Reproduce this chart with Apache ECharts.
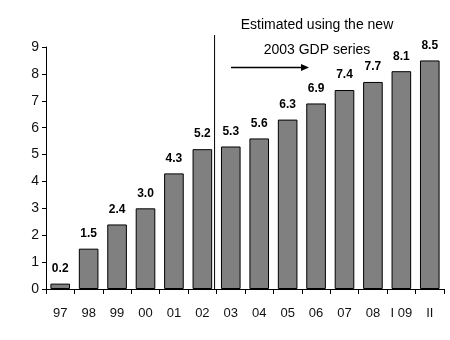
<!DOCTYPE html>
<html>
<head>
<meta charset="utf-8">
<script src="https://cdn.jsdelivr.net/npm/echarts@6/dist/echarts.min.js"></script>
<style>html,body{margin:0;padding:0;background:#fff}#c{width:450px;height:340px}</style>
</head>
<body>
<div id="c"></div>
<script>
// Period labels and values (index)
const categories = ['97', '98', '99', '00', '01', '02', '03', '04', '05', '06', '07', '08', 'I 09', 'II'];
const values = [0.2, 1.5, 2.4, 3.0, 4.3, 5.2, 5.3, 5.6, 6.3, 6.9, 7.4, 7.7, 8.1, 8.5];
const yTicks = [0, 1, 2, 3, 4, 5, 6, 7, 8, 9];
const noteLines = ['Estimated using the new', '2003 GDP series'];
const splitAfter = '02'; // vertical divider sits after this period

const FONT = '"Liberation Sans Narrow", "Liberation Sans", Arial, sans-serif';
const chart = echarts.init(document.getElementById('c'));

chart.setOption({
  animation: false,
  grid: { left: 46, right: 6, top: 47, bottom: 51 },
  xAxis: {
    type: 'category',
    data: categories,
    axisLine: { lineStyle: { color: '#000', width: 1 } },
    axisTick: { show: true, inside: false, length: 5, lineStyle: { color: '#000' } },
    axisLabel: { color: '#111', fontFamily: FONT, fontSize: 13, margin: 18 }
  },
  yAxis: {
    type: 'value',
    min: yTicks[0],
    max: yTicks[yTicks.length - 1],
    interval: 1,
    splitLine: { show: false },
    axisLine: { show: true, lineStyle: { color: '#000', width: 1 } },
    axisTick: { show: true, length: 4, lineStyle: { color: '#000' } },
    axisLabel: { color: '#111', fontFamily: FONT, fontSize: 14, margin: 7 }
  },
  series: [{
    type: 'bar',
    data: values,
    barCategoryGap: '31%',
    itemStyle: { color: '#808080', borderColor: '#000', borderWidth: 1 },
    label: {
      show: true,
      position: 'top',
      distance: 9,
      formatter: p => p.value.toFixed(1),
      color: '#000',
      fontFamily: FONT,
      fontWeight: 'bold',
      fontSize: 12
    }
  }]
});

// Divider between old and new series, annotation text and arrow
const idx = categories.indexOf(splitAfter);
const xL = chart.convertToPixel({ xAxisIndex: 0 }, categories[idx]);
const xR = chart.convertToPixel({ xAxisIndex: 0 }, categories[idx + 1]);
const xDiv = (xL + xR) / 2 - 2;
const yBase = chart.convertToPixel({ yAxisIndex: 0 }, 0);

chart.setOption({
  graphic: [
    { type: 'line', shape: { x1: xDiv, y1: 35, x2: xDiv, y2: yBase }, style: { stroke: '#000', lineWidth: 1 } },
    { type: 'text', x: 317, y: 25, style: { text: noteLines[0], fill: '#000', font: '14px ' + FONT, textAlign: 'center', textVerticalAlign: 'middle' } },
    { type: 'text', x: 317, y: 50, style: { text: noteLines[1], fill: '#000', font: '14px ' + FONT, textAlign: 'center', textVerticalAlign: 'middle' } },
    { type: 'line', shape: { x1: 231, y1: 67.5, x2: 302, y2: 67.5 }, style: { stroke: '#000', lineWidth: 1.5 } },
    { type: 'polygon', shape: { points: [[309, 67.5], [301, 64], [301, 71]] }, style: { fill: '#000' } }
  ]
});
</script>
</body>
</html>
